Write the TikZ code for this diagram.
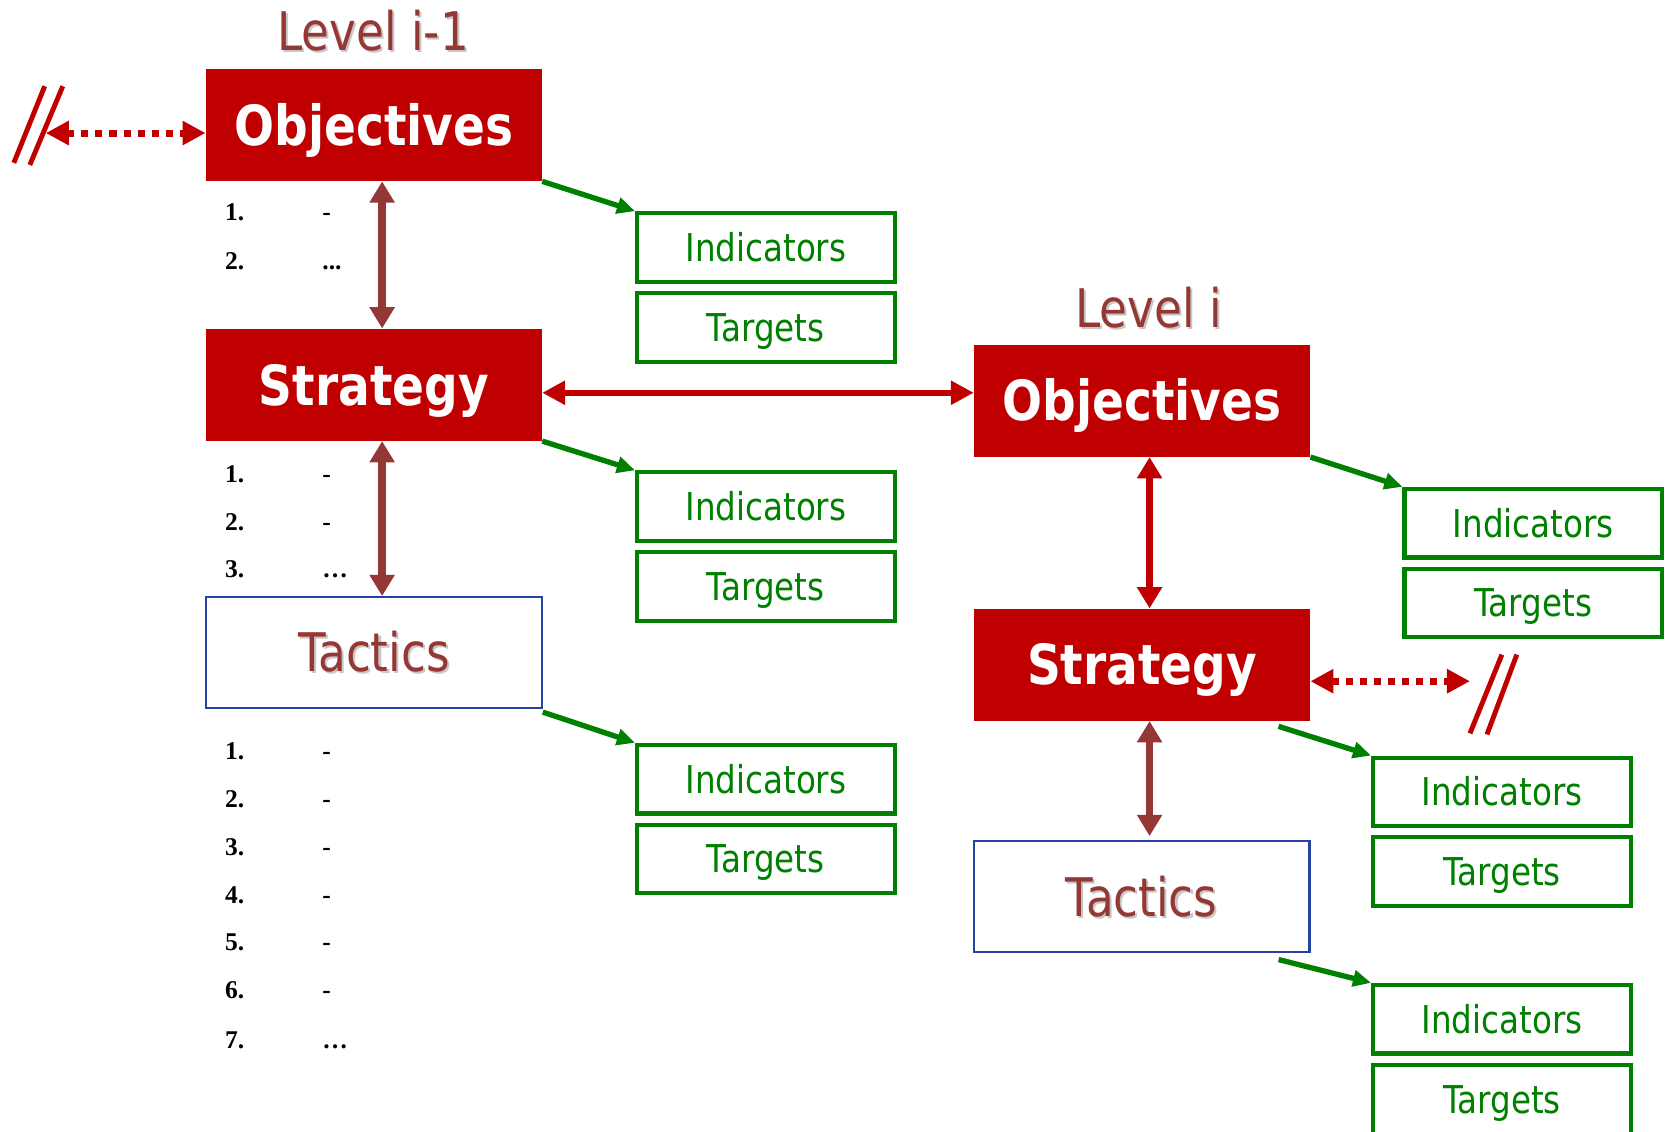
\documentclass[tikz,border=0pt]{standalone}
\usepackage{fontspec}
\setmainfont{DejaVu Sans}
\newfontfamily\tah{DejaVu Sans}[FakeStretch=0.85]
\newfontfamily\tnr{Liberation Serif}
\usetikzlibrary{arrows.meta,calc}
\definecolor{boxred}{HTML}{C00000}
\definecolor{brownish}{HTML}{953735}
\definecolor{grn}{HTML}{008000}
\definecolor{blu}{HTML}{2444A0}
\newcommand\shtext[1]{\leavevmode\rlap{\kern1pt\raisebox{-1pt}{\color{black!22}#1}}#1}
\newcommand\tightdots{...}
\newcommand\wideldots{…}
\tikzset{
 redbox/.style={fill=boxred, text=white, minimum width=157.75pt, minimum height=52.5pt, inner sep=0pt,
   font=\tah\bfseries\fontsize{26}{26}\selectfont, text height=19pt, text depth=0pt},
 tacbox/.style={draw=blu, line width=1pt, fill=white, text=brownish, minimum width=157.75pt, minimum height=52pt,
   inner sep=0pt, font=\tah\fontsize{25}{25}\selectfont, text height=18.2pt, text depth=0pt},
 gbox/.style={draw=grn, line width=1.9pt, text=grn, minimum width=121pt, minimum height=32.25pt, inner sep=0pt,
   font=\tah\fontsize{18}{18}\selectfont, text height=13.1pt, text depth=0pt},
 lvl/.style={text=brownish, font=\tah\fontsize{25}{25}\selectfont, inner sep=0pt, anchor=base},
 itm/.style={font=\tnr\bfseries\fontsize{12}{12}\selectfont, inner sep=0pt, anchor=base west},
 garrow/.style={draw=grn, line width=2.5pt, -{Triangle[length=8.5pt,width=7.5pt]}},
 brarrow/.style={draw=brownish, line width=3.5pt, {Triangle[length=10pt,width=11.3pt]}-{Triangle[length=10pt,width=11.3pt]}},
 rarrow/.style={draw=boxred, line width=3.3pt, {Triangle[length=10pt,width=11.3pt]}-{Triangle[length=10pt,width=11.3pt]}},
 hrarrow/.style={draw=boxred, line width=3pt, {Triangle[length=10.8pt,width=10.8pt]}-{Triangle[length=10.8pt,width=10.8pt]}},
 dotarrow/.style={draw=boxred, line width=3.3pt, dash pattern=on 3.3pt off 3.3pt,
   {Triangle[length=10.8pt,width=10.8pt]}-{Triangle[length=10.8pt,width=10.8pt]}},
 slashln/.style={draw=boxred, line width=2.3pt},
}
\begin{document}
\begin{tikzpicture}[x=0.5pt,y=-0.5pt]
\useasboundingbox (0,0) rectangle (1568,1063);
\fill[white] (0,0) rectangle (1568,1063);

% level titles
\node[lvl] (lv1) at (350.5,47) {\shtext{Level i-1}};
\node[lvl] (lv2) at (1079,308) {\shtext{Level i}};

% left column
\node[redbox] (Obj1) at (351.25,117.5) {Objectives};
\node[redbox] (Str1) at (351.25,361.5) {Strategy};
\node[tacbox] (Tac1) at (351.25,613) {\shtext{Tactics}};

% right column
\node[redbox] (Obj2) at (1073,376.5) {Objectives};
\node[redbox] (Str2) at (1073,624.5) {Strategy};
\node[tacbox] (Tac2) at (1072.5,842.5) {\shtext{Tactics}};

% indicator / target boxes
\node[gbox] (I1) at (719.5,232.5) {Indicators};
\node[gbox] (T1) at (719.5,307.5) {Targets};
\node[gbox] (I2) at (719.5,476) {Indicators};
\node[gbox] (T2) at (719.5,551) {Targets};
\node[gbox] (I3) at (719.5,732) {Indicators};
\node[gbox] (T3) at (719.5,807) {Targets};
\node[gbox] (I4) at (1440.5,491.5) {Indicators};
\node[gbox] (T4) at (1440.5,566.5) {Targets};
\node[gbox] (I5) at (1411,744) {Indicators};
\node[gbox] (T5) at (1411,819) {Targets};
\node[gbox] (I6) at (1411,957.5) {Indicators};
\node[gbox] (T6) at (1411,1033) {Targets};

% lists
\foreach \n/\y/\t in {1/207.6/-, 2/253/\tightdots}{
  \node[itm] (la\n) at (211,\y) {\n.};
  \node[itm] (lb\n) at (302.5,\y) {\t};
}
\foreach \n/\y/\t in {1/453/-, 2/498/-, 3/543/\wideldots}{
  \node[itm] (ma\n) at (211,\y) {\n.};
  \node[itm] (mb\n) at (302.5,\y) {\t};
}
\foreach \n/\y/\t in {1/714/-, 2/758.5/-, 3/803.5/-, 4/848.5/-, 5/893/-, 6/938/-, 7/985/\wideldots}{
  \node[itm] (na\n) at (211,\y) {\n.};
  \node[itm] (nb\n) at (302.5,\y) {\t};
}

% helper coordinates
\coordinate (cl) at (359,0);
\coordinate (cr) at (1080,0);
\coordinate (hy) at (700,369);
\coordinate (slashL) at (43,125);
\coordinate (slashR) at (1381,640);

% vertical arrows
\draw[brarrow] (Obj1.south -| cl) -- (Str1.north -| cl);
\draw[brarrow] (Str1.south -| cl) -- (Tac1.north -| cl);
\draw[rarrow] (Obj2.south -| cr) -- (Str2.north -| cr);
\draw[brarrow] (Str2.south -| cr) -- ([yshift=2pt]Tac2.north -| cr);

% horizontal link between levels
\draw[hrarrow] (Str1.east |- hy) -- (Obj2.west |- hy);

% dotted links to other levels
\draw[dotarrow] (slashL) -- (Obj1.west |- slashL);
\draw[dotarrow] (Str2.east |- slashR) -- (slashR);
\draw[slashln] (13,153) -- (42,81);
\draw[slashln] (28,155) -- (59,81);
\draw[slashln] (1381,689) -- (1411,615);
\draw[slashln] (1397,690) -- (1425,615);

% green arrows
\draw[garrow] (Obj1.south east) -- (I1.north west);
\draw[garrow] (Str1.south east) -- (I2.north west);
\draw[garrow] ($(Tac1.south east)+(0,3)$) -- (I3.north west);
\draw[garrow] (Obj2.south east) -- (I4.north west);
\draw[garrow] ($(Str2.south east)+(-30,5)$) -- (I5.north west);
\draw[garrow] ($(Tac2.south east)+(-30,6)$) -- (I6.north west);
\end{tikzpicture}
\end{document}
